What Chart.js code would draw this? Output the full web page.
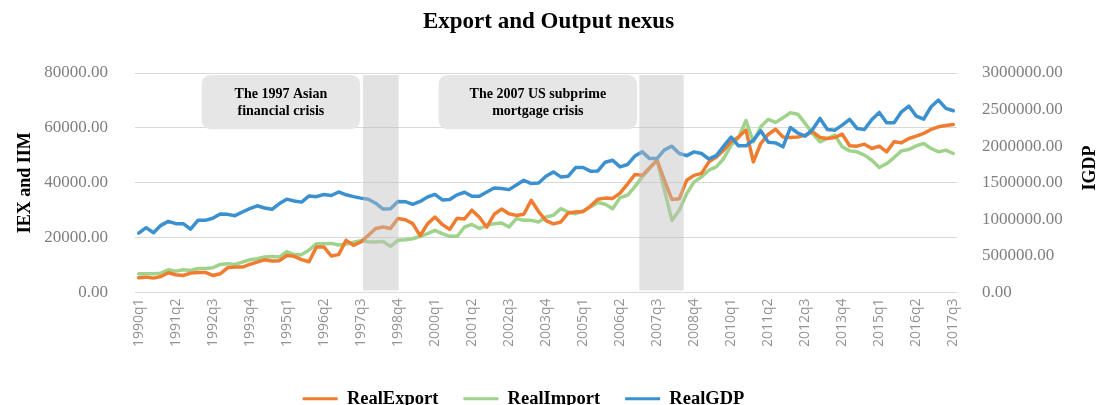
<!DOCTYPE html>
<html>
<head>
<meta charset="utf-8">
<script src="https://cdn.jsdelivr.net/npm/chart.js@4.4.0/dist/chart.umd.min.js"></script>
<style>
  html, body { margin: 0; padding: 0; background: #fff; }
  #wrap { width: 1097px; height: 405px; }
</style>
</head>
<body>
<div id="wrap"><canvas id="chart"></canvas></div>
<script>
const quarters = [
  '1990q1','1990q2','1990q3','1990q4','1991q1','1991q2','1991q3','1991q4',
  '1992q1','1992q2','1992q3','1992q4','1993q1','1993q2','1993q3','1993q4',
  '1994q1','1994q2','1994q3','1994q4','1995q1','1995q2','1995q3','1995q4',
  '1996q1','1996q2','1996q3','1996q4','1997q1','1997q2','1997q3','1997q4',
  '1998q1','1998q2','1998q3','1998q4','1999q1','1999q2','1999q3','1999q4',
  '2000q1','2000q2','2000q3','2000q4','2001q1','2001q2','2001q3','2001q4',
  '2002q1','2002q2','2002q3','2002q4','2003q1','2003q2','2003q3','2003q4',
  '2004q1','2004q2','2004q3','2004q4','2005q1','2005q2','2005q3','2005q4',
  '2006q1','2006q2','2006q3','2006q4','2007q1','2007q2','2007q3','2007q4',
  '2008q1','2008q2','2008q3','2008q4','2009q1','2009q2','2009q3','2009q4',
  '2010q1','2010q2','2010q3','2010q4','2011q1','2011q2','2011q3','2011q4',
  '2012q1','2012q2','2012q3','2012q4','2013q1','2013q2','2013q3','2013q4',
  '2014q1','2014q2','2014q3','2014q4','2015q1','2015q2','2015q3','2015q4',
  '2016q1','2016q2','2016q3','2016q4','2017q1','2017q2','2017q3'
];

// labels printed under the axis
const shownTicks = [
  '1990q1','1991q2','1992q3','1993q4','1995q1','1996q2','1997q3','1998q4',
  '2000q1','2001q2','2002q3','2003q4','2005q1','2006q2','2007q3','2008q4',
  '2010q1','2011q2','2012q3','2013q4','2015q1','2016q2','2017q3'
];

const realExport = [
  5360, 5600, 5240, 5840, 7180, 6450, 6210, 7060, 7300, 7300,
  6210, 6820, 9010, 9250, 9250, 10230, 11080, 11900, 11500, 11600,
  13500, 13200, 12000, 11200, 16600, 16600, 13300, 13800, 19000, 17200,
  18400, 20800, 23300, 23900, 23300, 27000, 26500, 25100, 20700, 25000,
  27500, 24800, 23000, 27100, 26800, 30000, 27400, 23800, 28500, 30400,
  28700, 28100, 28500, 33600, 29500, 26200, 25000, 25700, 29000, 29300,
  29500, 31500, 34000, 34400, 34300, 36200, 39500, 43000, 42700, 45500,
  48200, 40900, 33900, 34200, 40900, 42700, 43400, 47600, 49400, 51900,
  54900, 56700, 59200, 47600, 54300, 57600, 59500, 56700, 56500, 56700,
  57350, 58570, 56500, 56130, 56500, 57720, 53500, 53330, 54060, 52480,
  53330, 51260, 54920, 54550, 56130, 57000, 58000, 59430, 60390, 60880,
  61240
];

const realImport = [
  6820, 6820, 6820, 7060, 8280, 7790, 8280, 8040, 8770, 8770,
  9010, 10230, 10470, 10230, 11080, 11930, 12300, 12910, 13150, 12910,
  14900, 13800, 13800, 15500, 17800, 17800, 17900, 17300, 17700, 18300,
  18900, 18500, 18400, 18600, 16800, 19000, 19200, 19600, 20460, 21430,
  22650, 21430, 20460, 20460, 23870, 24800, 23300, 24480, 25090, 25330,
  23870, 26910, 26300, 26300, 25700, 27520, 28130, 30560, 29340, 28730,
  29700, 31170, 32800, 32150, 30560, 34580, 35430, 38600, 42130, 45170,
  48220, 37260, 26300, 29950, 36040, 40300, 42130, 44570, 45780, 48830,
  53700, 56400, 62700, 54900, 60390, 63100, 62000, 63700, 65500, 65000,
  61610, 57960, 54920, 56130, 57350, 53090, 51620, 51260, 50050, 48220,
  45540, 47000, 49190, 51620, 52120, 53450, 54310, 52480, 51260, 51870,
  50660
];

const realGDP = [
  812000, 886000, 817000, 918000, 972000, 941000, 941000, 865000, 986000, 986000,
  1014000, 1072000, 1068000, 1050000, 1100000, 1146000, 1185000, 1155000, 1137000, 1215000,
  1276000, 1251000, 1235000, 1320000, 1310000, 1340000, 1326000, 1374000, 1335000, 1310000,
  1290000, 1275000, 1220000, 1140000, 1146000, 1245000, 1242000, 1205000, 1245000, 1305000,
  1340000, 1265000, 1270000, 1335000, 1370000, 1315000, 1315000, 1374000, 1429000, 1420000,
  1406000, 1470000, 1534000, 1489000, 1497000, 1589000, 1648000, 1580000, 1589000, 1708000,
  1708000, 1658000, 1662000, 1781000, 1808000, 1717000, 1749000, 1865000, 1922000, 1830000,
  1833000, 1950000, 2000000, 1900000, 1870000, 1922000, 1900000, 1825000, 1870000, 2000000,
  2125000, 2005000, 2005000, 2082000, 2210000, 2055000, 2045000, 1991000, 2255000, 2180000,
  2137000, 2228000, 2379000, 2228000, 2219000, 2288000, 2365000, 2242000, 2228000, 2365000,
  2461000, 2320000, 2320000, 2470000, 2548000, 2411000, 2370000, 2539000, 2630000, 2516000,
  2484000
];

// shaded crisis periods, in quarter positions (0 = 1990q1)
const crisisBands = [[30.3, 35.1], [67.6, 73.6]];

// grey label boxes above the plot
const crisisNotes = [
  { lines: ['The 1997 Asian', 'financial crisis'], from: 8.5, to: 29.9 },
  { lines: ['The 2007 US subprime', 'mortgage crisis'], from: 40.5, to: 67.3 }
];
const noteTop = 79300;
const noteBottom = 59500;

const serif = '"Liberation Serif", "Times New Roman", serif';

const crisisPlugin = {
  id: 'crisis',
  afterLayout(chart) {
    // the legend sits a little left of centre in the original
    chart.legend.right = chart.width - 50;
    chart.legend.width = chart.legend.right - chart.legend.left;
  },
  afterDatasetsDraw(chart) {
    const { ctx, chartArea, scales: { x, y } } = chart;
    ctx.save();
    ctx.fillStyle = 'rgba(190, 190, 190, 0.45)';
    crisisBands.forEach(([a, b]) => {
      const x0 = x.getPixelForValue(a);
      const x1 = x.getPixelForValue(b);
      ctx.fillRect(x0, chartArea.top + 2, x1 - x0, chartArea.bottom - chartArea.top - 4);
    });
    crisisNotes.forEach(note => {
      const x0 = x.getPixelForValue(note.from);
      const x1 = x.getPixelForValue(note.to);
      const y0 = y.getPixelForValue(noteTop);
      const y1 = y.getPixelForValue(noteBottom);
      ctx.fillStyle = '#e6e6e6';
      ctx.beginPath();
      ctx.roundRect(x0, y0, x1 - x0, y1 - y0, 9);
      ctx.fill();
      ctx.fillStyle = '#000';
      ctx.font = 'bold 14px ' + serif;
      ctx.textAlign = 'center';
      ctx.textBaseline = 'middle';
      const cx = (x0 + x1) / 2;
      const cy = (y0 + y1) / 2;
      note.lines.forEach((t, k) => ctx.fillText(t, cx, cy - 7.5 + k * 17));
    });
    ctx.restore();
  },
  afterDraw(chart) {
    // right axis title reads bottom-to-top like the left one
    const { ctx, chartArea } = chart;
    ctx.save();
    ctx.translate(chart.width - 7, chartArea.top + 95);
    ctx.rotate(-Math.PI / 2);
    ctx.fillStyle = '#000';
    ctx.font = 'bold 18px ' + serif;
    ctx.textAlign = 'center';
    ctx.textBaseline = 'middle';
    ctx.fillText('IGDP', 0, 0);
    ctx.restore();
  }
};

new Chart(document.getElementById('chart'), {
  type: 'line',
  data: {
    labels: quarters,
    datasets: [
      { label: 'RealExport', data: realExport, borderColor: '#F07C30', backgroundColor: '#F07C30', yAxisID: 'y', order: 2 },
      { label: 'RealImport', data: realImport, borderColor: '#9FD38C', backgroundColor: '#9FD38C', yAxisID: 'y', order: 3 },
      { label: 'RealGDP', data: realGDP, borderColor: '#3B90CF', backgroundColor: '#3B90CF', yAxisID: 'y1', order: 1 }
    ]
  },
  options: {
    responsive: true,
    maintainAspectRatio: false,
    animation: false,
    layout: { padding: { top: 0, bottom: -13, left: 0, right: 0 } },
    elements: {
      line: { borderWidth: 3.5, tension: 0, borderJoinStyle: 'round', borderCapStyle: 'round' },
      point: { radius: 0 }
    },
    scales: {
      x: {
        offset: true,
        grid: { display: false, drawTicks: false },
        border: { display: false },
        ticks: {
          autoSkip: false,
          maxRotation: 90,
          minRotation: 90,
          padding: 6,
          color: '#939393',
          font: { family: '"Open Sans", sans-serif', size: 14 },
          callback(v) {
            const l = this.getLabelForValue(v);
            return shownTicks.includes(l) ? l : '';
          }
        },
        afterFit(s) { s.height = 72; }
      },
      y: {
        position: 'left',
        min: 0,
        max: 80000,
        grid: { color: '#d9d9d9', drawTicks: false },
        border: { display: false },
        ticks: {
          stepSize: 20000,
          padding: 27,
          color: '#7f7f7f',
          font: { family: serif, size: 17 },
          callback: v => v.toFixed(2)
        },
        title: {
          display: true,
          text: 'IEX and IIM',
          color: '#000',
          font: { family: serif, size: 18, weight: 'bold' },
          padding: { top: 15 }
        },
        afterFit(s) { s.width = 135; }
      },
      y1: {
        position: 'right',
        min: 0,
        max: 3000000,
        grid: { drawOnChartArea: false, drawTicks: false },
        border: { display: false },
        ticks: {
          stepSize: 500000,
          padding: 25,
          color: '#7f7f7f',
          font: { family: serif, size: 17 },
          callback: v => v.toFixed(2)
        },
        afterFit(s) { s.width = 140; }
      }
    },
    plugins: {
      title: {
        display: true,
        text: 'Export and Output nexus',
        color: '#000',
        font: { family: serif, size: 23, weight: 'bold' },
        padding: { top: 8, bottom: 37.4 }
      },
      legend: {
        position: 'bottom',
        labels: {
          boxWidth: 35,
          boxHeight: 3,
          padding: 25,
          color: '#000',
          font: { family: serif, size: 18.5, weight: 'bold' },
          sort: (a, b) => a.datasetIndex - b.datasetIndex,
          generateLabels(chart) {
            return Chart.defaults.plugins.legend.labels.generateLabels(chart)
              .map(item => Object.assign(item, { fillStyle: item.strokeStyle, lineWidth: 0 }));
          }
        }
      },
      tooltip: { enabled: false }
    }
  },
  plugins: [crisisPlugin]
});
</script>
</body>
</html>
